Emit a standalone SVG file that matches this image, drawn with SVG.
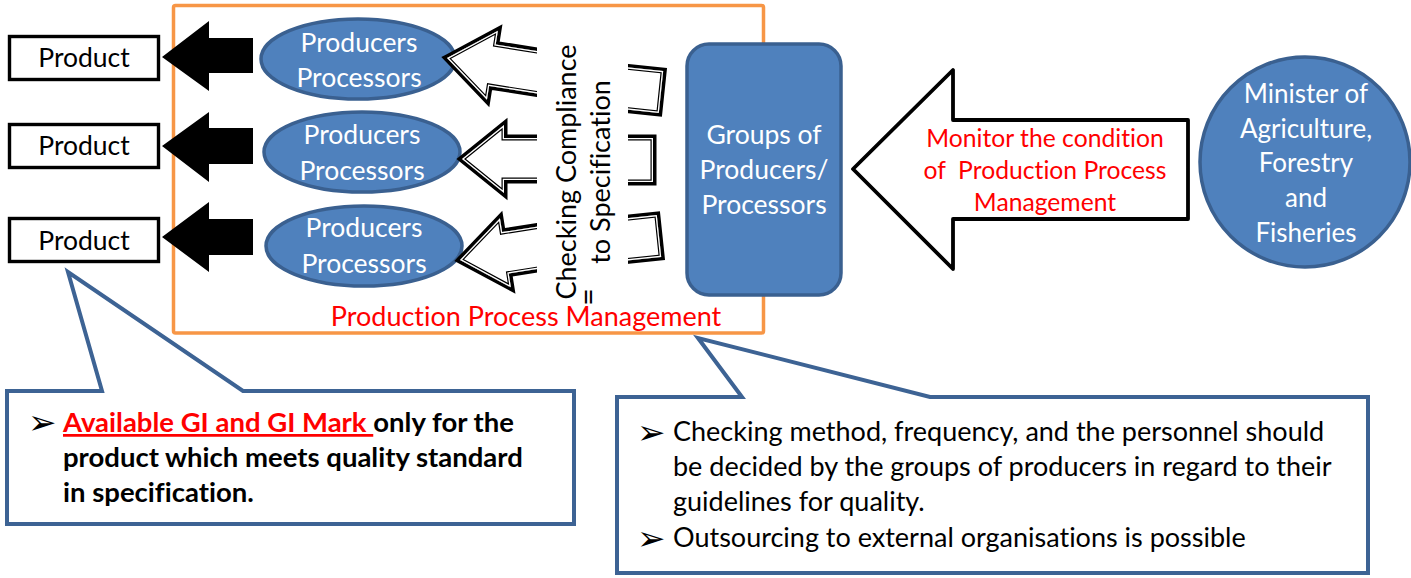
<svg xmlns="http://www.w3.org/2000/svg" xmlns:xlink="http://www.w3.org/1999/xlink" width="1411" height="578" viewBox="0 0 1411 578">
  <style>
    text { font-family: Lato, "Liberation Sans", sans-serif; font-variant-ligatures: none; font-feature-settings: "liga" 0, "clig" 0; }
    .box { fill: #fff; stroke: #000; stroke-width: 3.4; }
    .lbl { font-size: 26.5px; fill: #000; text-anchor: middle; }
    .wlbl { font-size: 26.5px; fill: #fff; text-anchor: middle; }
    .blue { fill: #4F81BD; stroke: #3A6090; stroke-width: 3.5; }
    .solid { fill: #000; }
    .dl0 { fill: #fff; stroke: #000; stroke-width: 7; stroke-linejoin: miter; paint-order: stroke; }
    .dl1 { fill: none; stroke: #000; stroke-width: 5; }
    .dl2 { fill: none; stroke: #fff; stroke-width: 2.6; }
    .red { fill: #FF0000; }
    .callout { fill: #fff; stroke: #3D6394; stroke-width: 4; stroke-linejoin: miter; }
    .note { font-size: 27px; fill: #000; }
    .bnote { font-size: 27.5px; font-weight: bold; fill: #000; }
    .bullet { font-family: "DejaVu Sans", sans-serif; font-size: 34px; fill: #000; }
  </style>
  <defs>
    <!-- hollow arrowheads (tip at origin) and tail ends -->
    <path id="h1" transform="translate(447,58) rotate(9)" d="M0,0 L46,-35 L46,-21 L130,-21 L130,21 L46,21 L46,35 Z"/>
    <path id="h2" transform="translate(462,159)" d="M0,0 L42,-34 L42,-21 L120,-21 L120,21 L42,21 L42,34 Z"/>
    <path id="h3" transform="translate(460,260) rotate(-9)" d="M0,0 L46,-35 L46,-21 L130,-21 L130,21 L46,21 L46,35 Z"/>
    <path id="t1" transform="translate(661,92) rotate(6)" d="M-80,-21 H0 V21 H-80 Z"/>
    <path id="t2" transform="translate(653,160)" d="M-80,-22 H0 V22 H-80 Z"/>
    <path id="t3" transform="translate(659,236) rotate(-6)" d="M-80,-21 H0 V21 H-80 Z"/>
    <clipPath id="ch1"><use xlink:href="#h1"/></clipPath>
    <clipPath id="ch2"><use xlink:href="#h2"/></clipPath>
    <clipPath id="ch3"><use xlink:href="#h3"/></clipPath>
    <clipPath id="ct1"><use xlink:href="#t1"/></clipPath>
    <clipPath id="ct2"><use xlink:href="#t2"/></clipPath>
    <clipPath id="ct3"><use xlink:href="#t3"/></clipPath>
  </defs>

  <rect width="1411" height="578" fill="#fff"/>

  <!-- production process management frame -->
  <g id="frame">
    <rect x="173.5" y="5.5" width="590" height="327.5" rx="2" fill="none" stroke="#F79646" stroke-width="3.5"/>
    <text x="526" y="326" class="red" style="font-size:27px" text-anchor="middle">Production Process Management</text>
  </g>

  <!-- products -->
  <g id="product1"><rect class="box" x="9.5" y="36.5" width="149" height="43"/><text class="lbl" x="84" y="67">Product</text></g>
  <g id="product2"><rect class="box" x="9.5" y="124.5" width="149" height="43"/><text class="lbl" x="84" y="155">Product</text></g>
  <g id="product3"><rect class="box" x="9.5" y="218.5" width="149" height="43"/><text class="lbl" x="84" y="249.5">Product</text></g>

  <!-- producers / processors -->
  <g id="producer1"><ellipse class="blue" cx="358" cy="59" rx="97" ry="40"/><text class="wlbl" x="359" y="52">Producers</text><text class="wlbl" x="359" y="87">Processors</text></g>
  <g id="producer2"><ellipse class="blue" cx="362" cy="152" rx="98" ry="40"/><text class="wlbl" x="362" y="144">Producers</text><text class="wlbl" x="362" y="180">Processors</text></g>
  <g id="producer3"><ellipse class="blue" cx="364" cy="246" rx="98" ry="40"/><text class="wlbl" x="364" y="237">Producers</text><text class="wlbl" x="364" y="273">Processors</text></g>

  <!-- groups of producers -->
  <g id="groups">
    <rect class="blue" x="687" y="44" width="154" height="251" rx="22"/>
    <text class="wlbl" x="764" y="143.5">Groups of</text>
    <text class="wlbl" x="764" y="178.5">Producers/</text>
    <text class="wlbl" x="764" y="213.5">Processors</text>
  </g>

  <!-- ministry -->
  <g id="ministry">
    <circle class="blue" cx="1305" cy="162" r="105"/>
    <g class="wlbl" style="font-size:26px">
      <text x="1306" y="103">Minister of</text>
      <text x="1306" y="137.5">Agriculture,</text>
      <text x="1306" y="172">Forestry</text>
      <text x="1306" y="207">and</text>
      <text x="1306" y="242">Fisheries</text>
    </g>
  </g>

  <g id="connectors">
    <!-- solid arrows to products -->
    <path class="solid" d="M162,57 L209,21 L209,38 L253,38 L253,73 L209,73 L209,91 Z"/>
    <path class="solid" d="M162,146 L209,112 L209,128 L253,128 L253,164 L209,164 L209,182 Z"/>
    <path class="solid" d="M162,237 L209,202 L209,219 L253,219 L253,255 L209,255 L209,272 Z"/>

    <!-- compound-line arrows from the compliance check -->
    <use xlink:href="#h1" class="dl0"/><use xlink:href="#h1" class="dl1" clip-path="url(#ch1)"/><use xlink:href="#h1" class="dl2" clip-path="url(#ch1)"/>
    <use xlink:href="#h2" class="dl0"/><use xlink:href="#h2" class="dl1" clip-path="url(#ch2)"/><use xlink:href="#h2" class="dl2" clip-path="url(#ch2)"/>
    <use xlink:href="#h3" class="dl0"/><use xlink:href="#h3" class="dl1" clip-path="url(#ch3)"/><use xlink:href="#h3" class="dl2" clip-path="url(#ch3)"/>
    <use xlink:href="#t1" class="dl0"/><use xlink:href="#t1" class="dl1" clip-path="url(#ct1)"/><use xlink:href="#t1" class="dl2" clip-path="url(#ct1)"/>
    <use xlink:href="#t2" class="dl0"/><use xlink:href="#t2" class="dl1" clip-path="url(#ct2)"/><use xlink:href="#t2" class="dl2" clip-path="url(#ct2)"/>
    <use xlink:href="#t3" class="dl0"/><use xlink:href="#t3" class="dl1" clip-path="url(#ct3)"/><use xlink:href="#t3" class="dl2" clip-path="url(#ct3)"/>

    <!-- monitoring arrow -->
    <path d="M853,169 L953,70 L953,120 L1188,120 L1188,219 L953,219 L953,269 Z" fill="#fff" stroke="#000" stroke-width="3.8" stroke-linejoin="round"/>
  </g>

  <!-- compliance check label -->
  <g id="compliance">
    <rect x="537" y="15" width="91" height="288" fill="#fff"/>
    <text transform="translate(576,172) rotate(-90)" style="font-size:27px" text-anchor="middle">Checking Compliance</text>
    <text transform="translate(610,172) rotate(-90)" style="font-size:27px" text-anchor="middle">to Specification</text>
    <text transform="translate(599,297) rotate(-90)" style="font-size:30px" text-anchor="middle">=</text>
  </g>

  <g id="monitor-label" class="red" style="font-size:24.7px" text-anchor="middle">
    <text x="1045" y="147">Monitor the condition</text>
    <text x="1045" y="179" xml:space="preserve">of  Production Process</text>
    <text x="1045" y="211">Management</text>
  </g>

  <!-- note on GI mark -->
  <g id="note-gi">
    <path class="callout" d="M7,391 H102 L68,272 L243,391 H574 V524 H7 Z"/>
    <text class="bullet" x="28" y="434">➢</text>
    <text class="bnote" x="63" y="432"><tspan fill="#FF0000" text-decoration="underline" xml:space="preserve">Available GI and GI Mark </tspan>only for the</text>
    <text class="bnote" x="63" y="467">product which meets quality standard</text>
    <text class="bnote" x="63" y="502">in specification.</text>
  </g>

  <!-- note on checking method -->
  <g id="note-check">
    <path class="callout" d="M617,397 H742 L698,338 L930,397 H1368 V573 H617 Z"/>
    <text class="bullet" x="637" y="444">➢</text>
    <text class="note" x="673" y="441">Checking method, frequency, and the personnel should</text>
    <text class="note" x="673" y="476">be decided by the groups of producers in regard to their</text>
    <text class="note" x="673" y="511">guidelines for quality.</text>
    <text class="bullet" x="637" y="550">➢</text>
    <text class="note" x="673" y="547">Outsourcing to external organisations is possible</text>
  </g>
</svg>
